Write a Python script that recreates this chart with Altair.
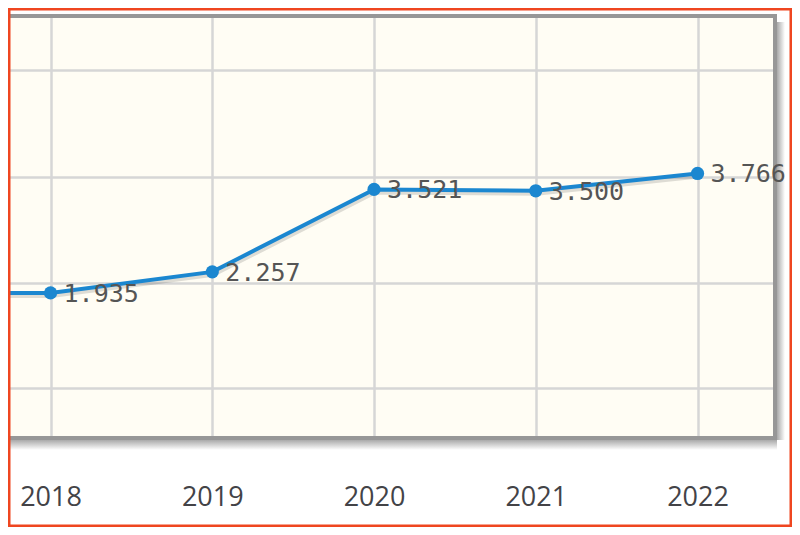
import altair as alt
import pandas as pd

# ---- data ----
years = [2017, 2018, 2019, 2020, 2021, 2022]
values = [1.93, 1.935, 2.257, 3.521, 3.500, 3.766]
year_ticks = [2018, 2019, 2020, 2021, 2022]
grid_values = [0.48, 2.09, 3.71, 5.35]
x_domain = [2017.737, 2022.479]
y_domain = [-0.29, 6.18]

df = pd.DataFrame({"year": years, "value": values})
one = pd.DataFrame({"k": [0]})

W, H = 767, 422
BLUE = "#1b87d0"
FRAME = "#979797"

x = alt.X(
    "year:Q",
    scale=alt.Scale(domain=x_domain, nice=False, zero=False),
    axis=alt.Axis(
        values=year_ticks, format="d", title=None, domain=False, ticks=False,
        grid=True, gridColor="#d6d6d6", gridWidth=2.5,
        labelFont="Open Sans", labelFontSize=27, labelColor="#434347",
        labelPadding=46, labelFlush=False, labelOverlap=False,
    ),
)
y = alt.Y(
    "value:Q",
    scale=alt.Scale(domain=y_domain, nice=False, zero=False),
    axis=alt.Axis(
        values=grid_values, title=None, domain=False, ticks=False, labels=False,
        grid=True, gridColor="#d6d6d6", gridWidth=2.5,
    ),
)

base = alt.Chart(df)

shadow_line = base.mark_line(
    color="black", opacity=0.13, strokeWidth=4, yOffset=3, xOffset=1, clip=True
).encode(x=x, y=y)
line = base.mark_line(color=BLUE, strokeWidth=4, clip=True).encode(x=x, y=y)
points = base.mark_circle(size=175, color=BLUE, opacity=1, clip=True).encode(x=x, y=y)
labels = base.mark_text(
    align="left", baseline="middle", dx=13, dy=1,
    font="DejaVu Sans Mono", fontSize=25, color="#555555",
).encode(
    x=x, y=y, text=alt.Text("value:Q", format=".3f")
).transform_filter(alt.datum.year >= year_ticks[0])

grad_r = alt.LinearGradient(
    gradient="linear", x1=0, x2=1, y1=0, y2=0,
    stops=[alt.GradientStop(color="#a9a9a9", offset=0),
           alt.GradientStop(color="#ffffff", offset=1)],
)
grad_b = alt.LinearGradient(
    gradient="linear", x1=0, x2=0, y1=0, y2=1,
    stops=[alt.GradientStop(color="#a9a9a9", offset=0),
           alt.GradientStop(color="#ffffff", offset=1)],
)
shadow_right = alt.Chart(one).mark_rect(fill=grad_r).encode(
    x=alt.value(W + 2), x2=alt.value(W + 10), y=alt.value(6), y2=alt.value(H + 2)
)
shadow_bottom = alt.Chart(one).mark_rect(fill=grad_b).encode(
    x=alt.value(0), x2=alt.value(W + 2), y=alt.value(H + 2), y2=alt.value(H + 12)
)
frame_top = alt.Chart(one).mark_rule(color=FRAME, strokeWidth=4).encode(
    x=alt.value(0), x2=alt.value(W + 2), y=alt.value(0)
)
frame_right = alt.Chart(one).mark_rule(color=FRAME, strokeWidth=4).encode(
    x=alt.value(W), y=alt.value(-2), y2=alt.value(H + 2)
)
frame_bottom = alt.Chart(one).mark_rule(color=FRAME, strokeWidth=4).encode(
    x=alt.value(0), x2=alt.value(W + 2), y=alt.value(H)
)
red_frame = alt.Chart(one).mark_rect(
    filled=False, stroke="#ef4620", strokeWidth=2.5
).encode(
    x=alt.value(1.25), x2=alt.value(782.75), y=alt.value(-6.75), y2=alt.value(509.75)
)

chart = alt.layer(
    shadow_right, shadow_bottom, shadow_line, line, points,
    frame_top, frame_right, frame_bottom, labels, red_frame
).properties(
    width=W, height=H,
    padding={"left": 0, "top": 8, "right": 17, "bottom": 89},
    autosize=alt.AutoSizeParams(type="none"),
    background="white",
).configure_view(
    fill="#fffdf4", stroke=None
)

chart.save("out.html", embed_options={"renderer": "svg", "actions": False})
